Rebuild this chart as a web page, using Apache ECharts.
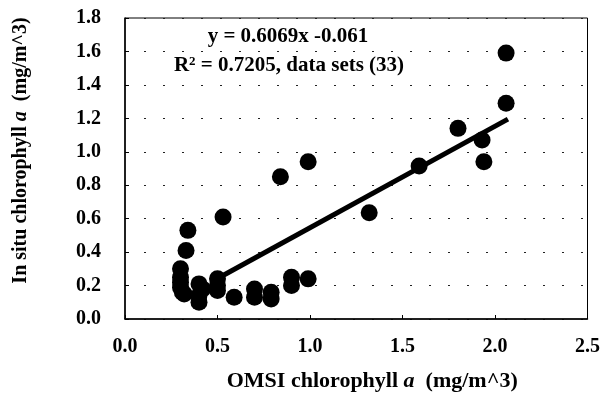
<!DOCTYPE html>
<html>
<head>
<meta charset="utf-8">
<script src="https://cdn.jsdelivr.net/npm/echarts@6/dist/echarts.min.js"></script>
<style>
  html, body { margin: 0; padding: 0; background: #fff; }
  #chart { width: 603px; height: 401px; }
</style>
</head>
<body>
<div id="chart"></div>
<script>
// OMSI chlorophyll a (x) vs in situ chlorophyll a (y)
var omsi = [2.06, 2.06, 1.80, 1.93, 1.94, 1.59, 1.32, 0.99, 0.84, 0.53, 0.34,
  0.33, 0.30, 0.30, 0.30, 0.31, 0.32, 0.40, 0.40, 0.40, 0.50, 0.50, 0.50,
  0.59, 0.70, 0.70, 0.79, 0.79, 0.90, 0.90, 0.99, 0.42, 0.30];
var insitu = [1.59, 1.29, 1.14, 1.07, 0.94, 0.915, 0.635, 0.94, 0.85, 0.61, 0.53,
  0.41, 0.30, 0.22, 0.19, 0.16, 0.15, 0.21, 0.14, 0.10, 0.24, 0.20, 0.17,
  0.13, 0.18, 0.13, 0.16, 0.12, 0.25, 0.20, 0.24, 0.18, 0.25];
// fitted line end points (y = 0.6069x - 0.061)
var fitX = [0.5, 2.07];
var fitY = [0.242, 1.195];

var xTicks = { min: 0, max: 2.5, interval: 0.5 };
var yTicks = { min: 0, max: 1.8, interval: 0.2 };

var font = 'Liberation Serif';

var points = omsi.map(function (x, i) { return [x, insitu[i]]; });
var fit = fitX.map(function (x, i) { return [x, fitY[i]]; });

var option = {
  backgroundColor: '#fff',
  animation: false,
  grid: {
    left: 125, top: 18, right: 12, bottom: 82,
    show: true, borderColor: '#000', borderWidth: 1
  },
  xAxis: {
    type: 'value',
    min: xTicks.min, max: xTicks.max, interval: xTicks.interval,
    name: 'OMSI chlorophyll {i|a}  (mg/m^3)',
    nameLocation: 'middle',
    nameGap: 51,
    nameTextStyle: {
      fontFamily: font, fontWeight: 'bold', fontSize: 22, color: '#000',
      padding: [0, 0, 0, 32],
      rich: { i: { fontFamily: font, fontWeight: 'bold', fontStyle: 'italic', fontSize: 22, color: '#000' } }
    },
    axisLine: { lineStyle: { color: '#000', width: 1.5 } },
    axisTick: { inside: true, length: 4, lineStyle: { color: '#000' } },
    axisLabel: {
      fontFamily: font, fontWeight: 'bold', fontSize: 20, color: '#000', margin: 18,
      formatter: function (v) { return v.toFixed(1); }
    },
    splitLine: { show: false }
  },
  yAxis: {
    type: 'value',
    min: yTicks.min, max: yTicks.max, interval: yTicks.interval,
    name: 'In situ chlorophyll {i|a}  (mg/m^3)',
    nameLocation: 'middle',
    nameGap: 94,
    nameTextStyle: {
      fontFamily: font, fontWeight: 'bold', fontSize: 20, color: '#000',
      padding: [0, 0, 0, 36],
      rich: { i: { fontFamily: font, fontWeight: 'bold', fontStyle: 'italic', fontSize: 20, color: '#000' } }
    },
    axisLine: { show: true, lineStyle: { color: '#000', width: 1.5 } },
    axisTick: { show: true, inside: true, length: 4, lineStyle: { color: '#000' } },
    axisLabel: {
      fontFamily: font, fontWeight: 'bold', fontSize: 20, color: '#000', margin: 24,
      formatter: function (v) { return v.toFixed(1); }
    },
    splitLine: { show: true, lineStyle: { color: '#222', width: 1, type: [2, 17] } }
  },
  graphic: [
    {
      type: 'text', x: 288, y: 37,
      style: {
        text: 'y = 0.6069x -0.061',
        font: 'bold 21px "Liberation Serif"', fill: '#000',
        align: 'center', verticalAlign: 'middle'
      }
    },
    {
      type: 'text', x: 289, y: 66,
      style: {
        text: 'R{s|2} = 0.7205, data sets (33)',
        font: 'bold 21px "Liberation Serif"', fill: '#000',
        align: 'center', verticalAlign: 'middle',
        rich: {
          s: { font: 'bold 13px "Liberation Serif"', fill: '#000', verticalAlign: 'top', padding: [0, 0, 9, 0] }
        }
      }
    }
  ],
  series: [
    {
      type: 'line', data: fit, symbol: 'none', silent: true,
      lineStyle: { color: '#000', width: 5 }, z: 3
    },
    {
      type: 'scatter', data: points, symbolSize: 17,
      itemStyle: { color: '#000', opacity: 1 }, z: 2
    }
  ]
};

var myChart = echarts.init(document.getElementById('chart'));
myChart.setOption(option);
</script>
</body>
</html>
